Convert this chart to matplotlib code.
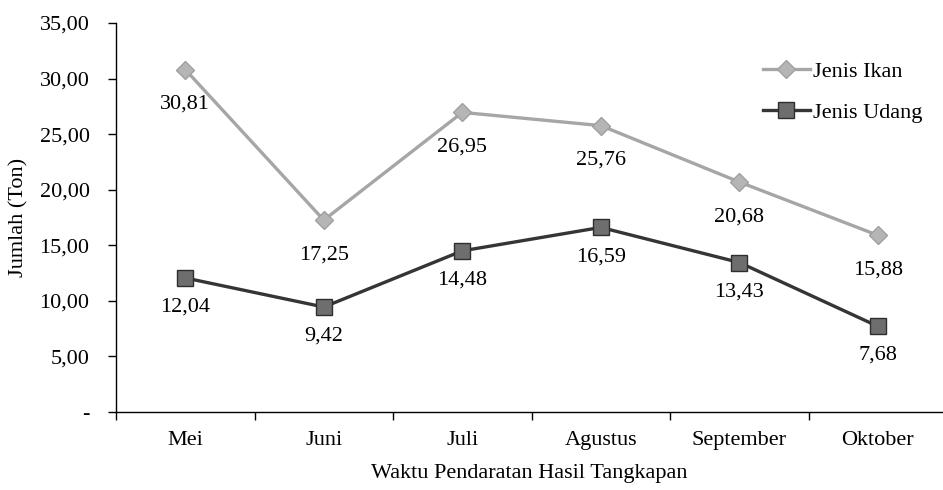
import matplotlib.pyplot as plt
from matplotlib.ticker import FixedLocator

plt.rcParams['font.family'] = ['Liberation Serif', 'DejaVu Serif']

bulan = ['Mei', 'Juni', 'Juli', 'Agustus', 'September', 'Oktober']
ikan = [30.81, 17.25, 26.95, 25.76, 20.68, 15.88]
udang = [12.04, 9.42, 14.48, 16.59, 13.43, 7.68]
y_ticks = [0, 5, 10, 15, 20, 25, 30, 35]


def fmt(v):
    return f'{v:.2f}'.replace('.', ',')


fs = 16
fig = plt.figure(figsize=(9.43, 4.9), dpi=100)
ax = fig.add_axes([0.123, 0.160, 0.877, 0.793])

x = list(range(len(bulan)))
ax.plot(x, ikan, color='#a6a6a6', lw=2.4, marker='D', ms=9.5,
        mfc='#b5b5b5', mec='#a0a0a0', label='Jenis Ikan')
ax.plot(x, udang, color='#353535', lw=2.4, marker='s', ms=11,
        mfc='#6e6e6e', mec='#2e2e2e', mew=1.0, label='Jenis Udang')

# nilai di bawah tiap titik
for xi, v in zip(x, ikan):
    ax.annotate(fmt(v), (xi, v), xytext=(0, -25), textcoords='offset points',
                ha='center', va='center', fontsize=fs)
for xi, v in zip(x, udang):
    ax.annotate(fmt(v), (xi, v), xytext=(0, -21), textcoords='offset points',
                ha='center', va='center', fontsize=fs)

ax.set_xlim(-0.5, 5.47)
ax.set_ylim(0, 35)
ax.set_yticks(y_ticks)
ax.set_yticklabels(['-'] + [fmt(t) for t in y_ticks[1:]], fontsize=fs)
ax.set_xticks(x)
ax.set_xticklabels(bulan, fontsize=fs)
ax.xaxis.set_minor_locator(FixedLocator([i - 0.5 for i in range(7)]))
ax.tick_params(axis='x', which='major', length=0, pad=14)
ax.tick_params(axis='x', which='minor', length=6, width=1)
ax.tick_params(axis='y', length=6, width=1, pad=13)

for s in ['top', 'right']:
    ax.spines[s].set_visible(False)
ax.spines['left'].set_linewidth(1)
ax.spines['bottom'].set_linewidth(1)

ax.set_ylabel('Jumlah (Ton)', fontsize=fs, labelpad=8)
ax.set_xlabel('Waktu Pendaratan Hasil Tangkapan', fontsize=fs, labelpad=10)

ax.legend(loc='upper left', bbox_to_anchor=(0.788, 0.915), bbox_transform=fig.transFigure,
          frameon=False, fontsize=fs, handlelength=2.1, handletextpad=0.15,
          labelspacing=0.9)

fig.savefig('out.png', dpi=100)
